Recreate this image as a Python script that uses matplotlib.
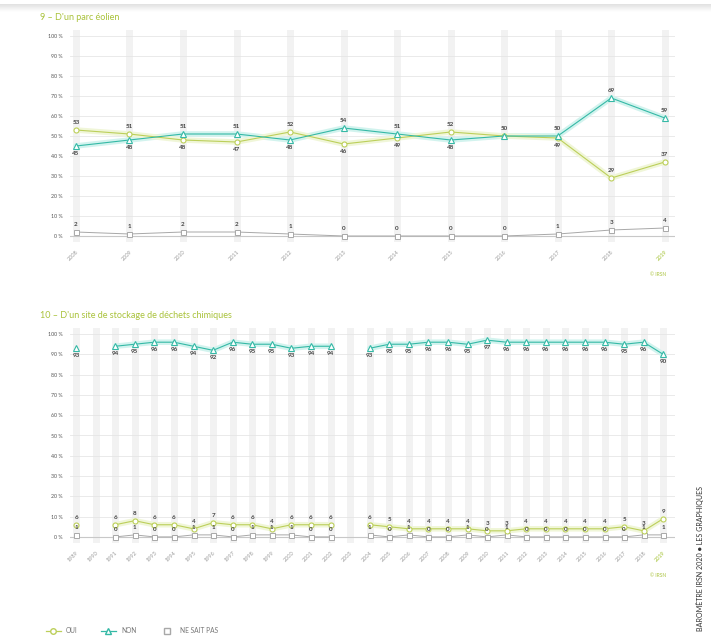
import numpy as np
import matplotlib
matplotlib.use("Agg")
import matplotlib.pyplot as plt
from matplotlib.lines import Line2D

plt.rcParams['font.family'] = ['Lato', 'DejaVu Sans']

# panel 9 - parc eolien
years_top = [2008, 2009, 2010, 2011, 2012, 2013, 2014, 2015, 2016, 2017, 2018, 2019]
oui_top = [53, 51, 48, 47, 52, 46, 49, 52, 50, 49, 29, 37]
non_top = [45, 48, 51, 51, 48, 54, 51, 48, 50, 50, 69, 59]
nsp_top = [2, 1, 2, 2, 1, 0, 0, 0, 0, 1, 3, 4]

# panel 10 - site de stockage de dechets chimiques (nan = pas d'enquete)
nan = np.nan
years_bot = list(range(1989, 2020))
oui_bot = [6, nan, 6, 8, 6, 6, 4, 7, 6, 6, 4, 6, 6, 6, nan, 6, 5, 4, 4, 4, 4, 3, 3, 4, 4, 4, 4, 4, 5, 3, 9]
non_bot = [93, nan, 94, 95, 96, 96, 94, 92, 96, 95, 95, 93, 94, 94, nan, 93, 95, 95, 96, 96, 95, 97, 96, 96, 96, 96, 96, 96, 95, 96, 90]
nsp_bot = [1, nan, 0, 1, 0, 0, 1, 1, 0, 1, 1, 1, 0, 0, nan, 1, 0, 1, 0, 0, 1, 0, 1, 0, 0, 0, 0, 0, 0, 1, 1]

yticks = list(range(0, 101, 10))
titles = ["9 – D'un parc éolien", "10 – D'un site de stockage de déchets chimiques"]
legend_labels = ["OUI", "NON", "NE SAIT PAS"]

GREEN = '#bccf5a'
TEAL = '#35b9a6'
GREY = '#a8a8a8'
LABEL = '#444444'


def put_label(ax, x, y, txt, above):
    if above:
        ax.annotate(txt, (x, y), xytext=(0, 3.5), textcoords='offset points',
                    ha='center', va='bottom', fontsize=4.5, fontweight='bold', color=LABEL)
    else:
        ax.annotate(txt, (x, y), xytext=(0, -3.5), textcoords='offset points',
                    ha='center', va='top', fontsize=4.5, fontweight='bold', color=LABEL)


def draw_panel(ax, years, oui, non, nsp, title, xmin, xmax):
    x = np.arange(len(years))
    oui = np.array(oui, dtype=float)
    non = np.array(non, dtype=float)
    nsp = np.array(nsp, dtype=float)

    ax.set_xlim(xmin, xmax)
    ax.set_ylim(-3, 103)
    for xi in x:
        ax.axvline(xi, color='#f2f2f2', lw=5, zorder=0)
    for yt in yticks:
        ax.axhline(yt, color='#e6e6e6', lw=0.6, zorder=0.5)
    ax.axhline(0, color='#c8c8c8', lw=0.8, zorder=0.6)

    # halos
    ax.plot(x, non, color='#d2f3ee', lw=4, zorder=1, solid_capstyle='round')
    ax.plot(x, oui, color='#f0f6d8', lw=4, zorder=1, solid_capstyle='round')

    ax.plot(x, nsp, color=GREY, lw=0.7, marker='s', ms=3.6, mfc='white', mec=GREY, mew=0.7, zorder=2)
    ax.plot(x, oui, color=GREEN, lw=0.8, marker='o', ms=3.6, mfc='white', mec=GREEN, mew=0.8, zorder=3)
    ax.plot(x, non, color=TEAL, lw=0.8, marker='^', ms=4, mfc='white', mec=TEAL, mew=0.8, zorder=4)

    for i in x:
        if np.isnan(oui[i]):
            continue
        o, n = oui[i], non[i]
        if o == n:
            put_label(ax, i, o, f"{int(o)}", True)
        else:
            hi, lo = max(o, n), min(o, n)
            put_label(ax, i, hi, f"{int(hi)}", hi < 85)
            put_label(ax, i, lo, f"{int(lo)}", (hi - lo) > 12)
        put_label(ax, i, nsp[i], f"{int(nsp[i])}", True)

    ax.set_yticks(yticks)
    ax.set_yticklabels([f"{v} %" for v in yticks], fontsize=3.8, color='#555555')
    ax.set_xticks(x)
    ax.set_xticklabels([str(y) for y in years], rotation=45, ha='right', rotation_mode='anchor',
                       fontsize=4, color='#999999')
    ax.get_xticklabels()[-1].set_color('#9fbf2a')
    ax.tick_params(length=0, pad=5)
    for s in ax.spines.values():
        s.set_visible(False)
    ax.set_title(title, loc='left', x=-0.05, fontsize=6.5, color='#a9c23a', pad=7)
    ax.text(0.985, -0.16, "© IRSN", transform=ax.transAxes, fontsize=3.5, color='#a9c23a', ha='right')


fig = plt.figure(figsize=(7.11, 6.4), dpi=100)

# grey strip at the top of the page
bar = fig.add_axes([0, 1 - 12 / 640, 1, 8 / 640])
bar.imshow(np.linspace(0.88, 1, 20).reshape(-1, 1), cmap='gray', vmin=0, vmax=1, aspect='auto')
bar.axis('off')

ax1 = fig.add_axes([70 / 711, 1 - 242 / 640, 605 / 711, 212 / 640])
draw_panel(ax1, years_top, oui_top, non_top, nsp_top, titles[0], -0.11, 11.19)

ax2 = fig.add_axes([70 / 711, 1 - 543 / 640, 605 / 711, 215 / 640])
draw_panel(ax2, years_bot, oui_bot, non_bot, nsp_bot, titles[1], -0.31, 30.6)

handles = [
    Line2D([], [], color=GREEN, lw=0.9, marker='o', ms=4, mfc='white', mec=GREEN),
    Line2D([], [], color=TEAL, lw=0.9, marker='^', ms=4.5, mfc='white', mec=TEAL),
    Line2D([], [], color='none', marker='s', ms=5, mfc='white', mec=GREY),
]
fig.legend(handles, legend_labels, loc='lower left', bbox_to_anchor=(40 / 711, 0.0), ncol=3,
           frameon=False, fontsize=4.8, labelcolor='#777777', handlelength=2.2, columnspacing=3.5)

fig.text(700 / 711, 1 - 486 / 640, "BAROMÈTRE IRSN 2020 ● LES GRAPHIQUES", rotation=90,
         ha='center', va='top', fontsize=5.1, color='#333333')

fig.savefig("out.png", dpi=100)
